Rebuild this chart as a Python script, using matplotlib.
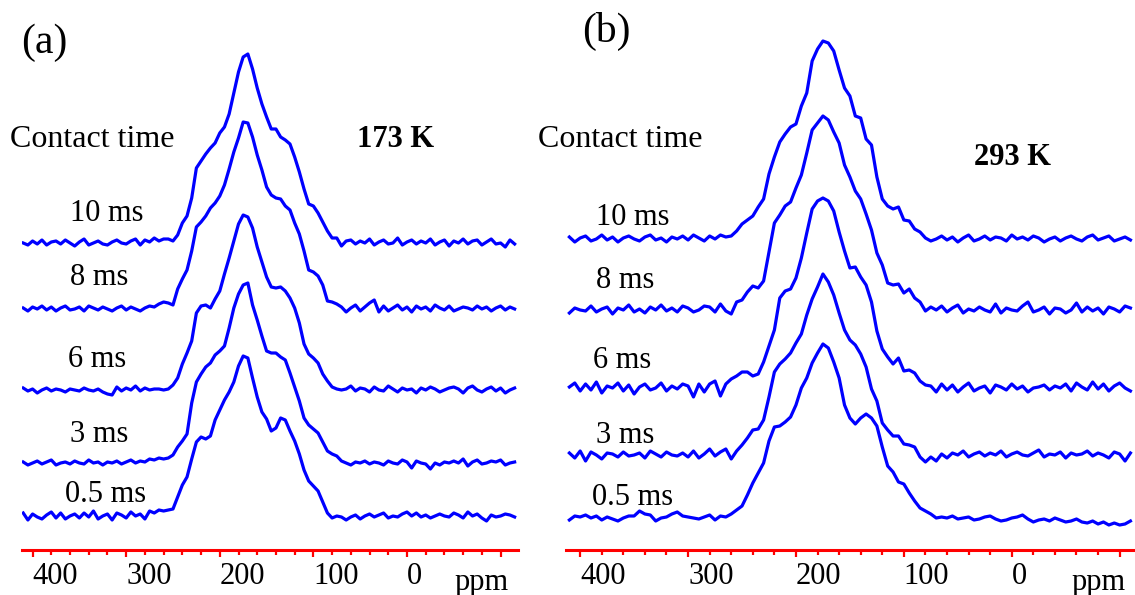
import matplotlib
matplotlib.use("Agg")
import matplotlib.pyplot as plt
import numpy as np
from matplotlib.ticker import FixedLocator, MultipleLocator

plt.rcParams['font.family'] = ['Liberation Serif', 'DejaVu Serif']

# chemical shift grids (ppm), one point every 5 ppm
ppm_a = np.arange(410, -116, -5)
ppm_b = np.arange(410, -111, -5)

labels = ["10 ms", "8 ms", "6 ms", "3 ms", "0.5 ms"]

# (a) 173 K spectra, intensity in a.u.
a_10 = [0, -2, 2, -1, 3, -2, 1, 2, -1, 3, 0, -3, 1, 4, -2, 0, 2, -1, -2, 1, 3, 0, -1, 2, 4, -2, 3, 1, 5, 2, 4,
        4, 2, 8, 20, 27, 45, 75, 82, 89, 95, 100, 110, 116, 129, 150, 171, 186, 189, 174, 155, 139, 126, 114,
        114, 106, 103, 99, 86, 71, 54, 39, 37, 30, 21, 12, 5, 5, -3, 2,
        3, -1, 2, 0, 4, -2, 1, 3, -1, 0, 5, -2, 1, 3, -1, 2, 0, 4, -2, 1, 3, -3, 2, 0, 4, -1, 2, 3, -2, 1, 4,
        -1, 0, -4, 3, -1]
a_8 = [1, -2, 2, 0, 3, -1, 2, -2, 1, 3, -1, 0, 2, -2, 3, 1, -1, 2, 0, -2, 1, 3, -1, 2, 0, -2, 1, 3, 2, 5, 7,
       6, 4, 20, 30, 39, 58, 82, 87, 93, 101, 106, 113, 124, 140, 157, 171, 187, 186, 172, 154, 139, 122, 114,
       111, 110, 103, 99, 86, 75, 58, 39, 37, 33, 24, 8, 7, 5, 2, -3,
       1, 4, -2, 2, 6, 9, -3, 3, -2, 1, 4, -1, 2, -3, 3, 0, 2, -2, 4, 1, -1, 3, -2, 0, 2, 1, -1, 3, 0, 2, -2,
       1, 3, -1, 2, 0]
a_6 = [2, -1, 1, -3, 0, 2, -1, 1, 0, -2, 1, 0, -1, 2, 0, -1, 1, -2, -4, -5, 3, -1, 2, 0, 4, -1, 2, 0, 1, 1, 0,
       1, 5, 12, 26, 37, 49, 77, 84, 85, 82, 91, 99, 116, 132, 149, 166, 175, 173, 162, 143, 128, 113, 103,
       102, 103, 99, 92, 82, 67, 46, 36, 32, 27, 16, 9, 3, 1, 0, 1,
       4, -1, 2, 1, -2, 3, 0, -1, 4, 1, -2, 2, 0, 1, -3, 2, 0, 3, 1, -2, 0, 2, 3, 1, -3, 2, 4, 0, -2, 1, 3,
       -1, 2, -3, 0, 2]
a_3 = [1, -2, 0, 2, -1, 1, 3, -2, 0, 1, -1, 2, 0, -1, 3, 0, 1, -2, 1, 0, 2, -1, 1, 3, 0, 2, 1, 4, 3, 5, 4,
       5, 8, 16, 22, 29, 60, 81, 89, 96, 100, 108, 112, 117, 135, 155, 169, 178, 180, 158, 143, 127, 112, 110,
       110, 106, 103, 90, 76, 62, 45, 38, 34, 30, 21, 12, 9, 7, 2, 0,
       -2, 1, 0, 2, -1, 1, 0, -2, 2, 0, -1, 3, 1, -5, 2, 0, -1, -6, 0, -2, 1, 0, 2, 0, 4, -3, 1, 3, -1, 0, 2,
       1, 3, -2, 0, 1]
a_05 = [3, -4, 2, -1, -3, 1, 4, -2, 3, -3, 0, 2, -2, 3, -1, 5, -3, 0, 2, -4, 3, 1, -2, 4, 0, 2, -3, 5, 3, 6, 5,
        6, 7, 19, 31, 39, 57, 74, 79, 77, 80, 96, 106, 116, 124, 134, 150, 160, 158, 138, 119, 104, 97, 85,
        88, 98, 96, 85, 75, 62, 46, 35, 30, 25, 14, 3, -2, 0, -1, -4,
        -1, 1, -3, 0, 2, -1, 1, 3, -2, 0, -1, 2, 4, 0, 3, -1, 1, -2, 0, 2, 0, -1, 3, 1, -2, 4, 0, 2, -2, -5,
        1, -1, 0, 2, 1, -1]

# (b) 293 K spectra
b_10 = [2, -3, 1, 3, -2, 0, 4, -1, 2, -3, 1, 3, 0, -2, 2, 4, -1, 1, -3, 2, 0, 3, -1, 4, 1, -2, 3, 0, 4, 2, 3,
        8, 15, 19, 23, 32, 40, 65, 82, 97, 105, 112, 115, 133, 146, 178, 190, 198, 196, 188, 169, 151, 143, 123,
        121, 100, 94, 62, 40, 33, 30, 32, 19, 18, 10, 7, 1, -2, 0,
        3, -1, 2, -3, 1, 4, -2, 0, 3, -1, 2, 1, -2, 4, 0, 2, -1, 3, 1, -3, 0, 2, -2, 1, 3, 0, -2, 2, 4, -1, 1,
        3, -2, 0, 2, -1]
b_8 = [-3, 2, 0, -1, 4, -2, 1, 3, -4, 2, 0, 5, -2, 1, -3, 3, 0, 5, -1, 2, -2, 4, 2, -2, 0, 4, 3, -2, 6, -1, -4,
       8, 10, 18, 24, 22, 29, 58, 87, 95, 104, 108, 122, 135, 157, 180, 187, 194, 190, 178, 167, 145, 133, 119,
       111, 96, 80, 57, 45, 27, 25, 26, 17, 21, 12, 8, -1, 3, 0,
       4, -2, 2, 5, -3, 1, -1, 3, 0, -2, 6, -3, 2, 0, -1, 4, 8, -2, 0, 3, -4, 2, 1, -3, 0, 7, -2, 3, -1, 2, -4,
       3, 1, -2, 4, 2]
b_6 = [1, 5, -3, 4, -2, 6, -5, 2, 0, 5, -3, 3, -6, 1, 4, -2, 0, 5, -3, 2, -1, 4, 2, -9, 4, -4, 4, 7, -8, 4, 9,
       12, 16, 16, 12, 14, 26, 42, 58, 90, 97, 99, 110, 130, 155, 179, 187, 190, 187, 177, 156, 137, 120, 121,
       111, 103, 86, 57, 39, 31, 24, 30, 17, 18, 15, 7, 3, 2, -4,
       4, -2, 3, -4, 1, 5, -3, 0, 2, -5, 3, 1, -2, 4, -1, 2, -4, 0, 1, 3, -2, 2, 0, 4, -3, 5, 1, -2, 6, -1, 4,
       -3, 2, 5, 0, -3]
b_3 = [2, -3, 4, -6, 3, 0, -4, 2, 1, -2, 3, -1, 0, 2, -3, 4, 1, -2, 3, 0, -1, 2, -2, 4, -3, 1, 6, -1, 3, 6, -4,
       4, 10, 17, 25, 26, 35, 58, 83, 91, 96, 102, 112, 121, 140, 156, 168, 181, 173, 160, 142, 125, 115, 110,
       101, 88, 66, 54, 32, 25, 19, 19, 11, 10, 8, -2, -7, -2, -6,
       1, -3, 2, 0, 4, -2, 1, 3, -1, 2, 0, 4, -2, 1, 3, 0, -1, 2, 5, -2, 1, 0, 3, -3, 2, 0, 1, 4, -1, 2, 0,
       -3, 3, 1, -6, 2]
b_05 = [-1, 3, 2, 4, 1, 3, -1, 2, 0, -2, 1, 3, 3, 8, 5, 4, -2, 1, 2, 5, 7, 3, 2, 1, 0, 2, 4, -1, 3, 2, 5,
        9, 13, 24, 36, 46, 56, 78, 92, 93, 97, 102, 114, 131, 141, 156, 166, 175, 171, 157, 141, 114, 101, 95,
        101, 105, 101, 93, 72, 53, 47, 37, 35, 26, 18, 11, 8, 5, 1,
        2, 1, 3, 0, 1, 2, -1, 0, 2, 3, 0, -2, -1, 1, 2, 4, 0, -3, -1, 0, -2, 1, -1, -3, -2, 0, -3, -4, -2, -5,
        -3, -6, -4, -6, -5, -2]

spectra_a = [a_10, a_8, a_6, a_3, a_05]
spectra_b = [b_10, b_8, b_6, b_3, b_05]

# layout (pixel units of the 1135x595 canvas)
W, H = 1135, 595
offsets_a = [307, 241, 160, 87, 34]
offsets_b = [311, 240, 162, 95, 31]

fig = plt.figure(figsize=(W / 100, H / 100), dpi=100)


def px(x, y):
    return x / W, 1 - y / H


def make_axes(left, right, xlim):
    ax = fig.add_axes([left / W, (H - 550) / H, (right - left) / W, 550 / H])
    ax.set_xlim(*xlim)
    ax.set_ylim(0, 550)
    for s in ['top', 'left', 'right']:
        ax.spines[s].set_visible(False)
    ax.spines['bottom'].set_color('red')
    ax.spines['bottom'].set_linewidth(2.2)
    ax.set_yticks([])
    ax.xaxis.set_major_locator(FixedLocator([400, 300, 200, 100, 0, -100]))
    ax.xaxis.set_minor_locator(MultipleLocator(20))
    ax.set_xticklabels(['400', '300', '200', '100', '0', ''])
    ax.tick_params(axis='x', which='major', direction='out', length=5, width=1.6,
                   color='red', labelsize=22, pad=4)
    ax.tick_params(axis='x', which='minor', direction='out', length=3.5, width=1.6, color='red')
    for lbl in ax.get_xticklabels():
        lbl.set_ha('left')
    ax.patch.set_alpha(0)
    return ax


ax_a = make_axes(22, 518, (411.3, -118.6))
ax_b = make_axes(565.5, 1134, (413.6, -113.3))

for vals, off in zip(spectra_a, offsets_a):
    ax_a.plot(ppm_a, np.array(vals) + off, color='#0000FF', lw=2.3, solid_joinstyle='round')
for vals, off in zip(spectra_b, offsets_b):
    ax_b.plot(ppm_b, np.array(vals) + off, color='#0000FF', lw=2.3, solid_joinstyle='round')

fs = 22
# panel (a) texts
fig.text(*px(21, 43), "(a)", fontsize=30, va='center', ha='left')
fig.text(*px(10, 147), "Contact time", fontsize=23, va='baseline', ha='left')
fig.text(*px(357, 147), "173 K", fontsize=fs, fontweight='bold', va='baseline', ha='left')
for lab, (x, y) in zip(labels, [(70, 221), (70, 285), (68, 367), (70, 442), (65, 502)]):
    fig.text(*px(x, y), lab, fontsize=fs, va='baseline', ha='left')
fig.text(*px(455, 590), "ppm", fontsize=fs, va='baseline', ha='left')

# panel (b) texts
fig.text(*px(582, 31), "(b)", fontsize=30, va='center', ha='left')
fig.text(*px(538, 147), "Contact time", fontsize=23, va='baseline', ha='left')
fig.text(*px(974, 165), "293 K", fontsize=fs, fontweight='bold', va='baseline', ha='left')
for lab, (x, y) in zip(labels, [(596, 225), (596, 288), (593, 368), (596, 443), (592, 505)]):
    fig.text(*px(x, y), lab, fontsize=fs, va='baseline', ha='left')
fig.text(*px(1072, 590), "ppm", fontsize=fs, va='baseline', ha='left')

fig.savefig("out.png", dpi=100)
